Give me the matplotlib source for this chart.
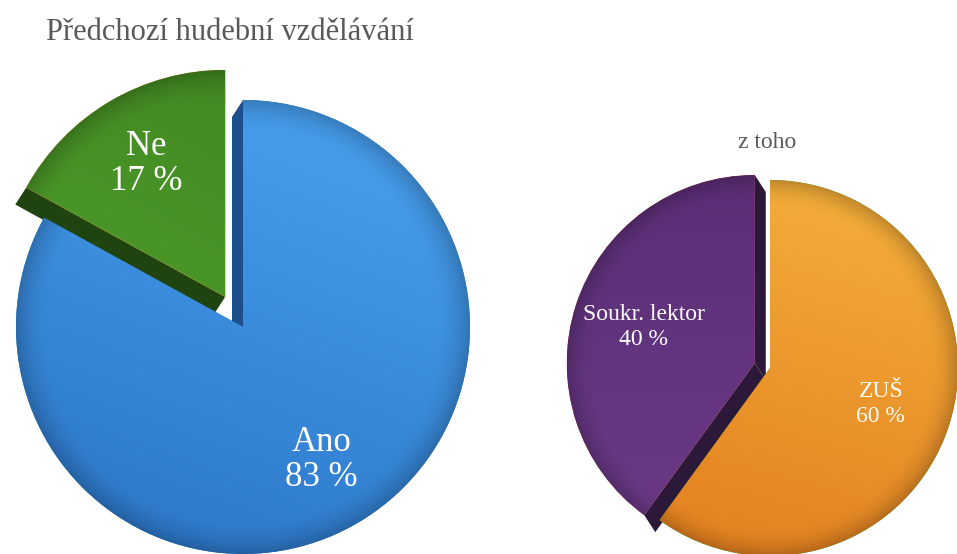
import numpy as np
import matplotlib
matplotlib.use("Agg")
import matplotlib.pyplot as plt
from matplotlib.patches import Polygon

# data
left_labels = ["Ano", "Ne"]
left_values = [83, 17]
right_labels = ["ZUŠ", "Soukr. lektor"]
right_values = [60, 40]

title_left = "Předchozí hudební vzdělávání"
title_right = "z toho"

W, H = 957, 554
plt.rcParams['font.family'] = ['Liberation Serif', 'DejaVu Serif']

fig = plt.figure(figsize=(W / 100, H / 100), dpi=100)
ax = fig.add_axes([0, 0, 1, 1])


def shaded(ax, wedge, c_top, c_bot, angle):
    # linear gradient clipped to the wedge
    x0, y0 = wedge.center
    r = wedge.r
    n = 200
    t = np.linspace(0, 1, n)
    X, Y = np.meshgrid(t, t)
    a = np.deg2rad(angle)
    g = (X - 0.5) * np.cos(a) + (Y - 0.5) * np.sin(a)
    g = (g - g.min()) / (g.max() - g.min())
    c1 = np.array(matplotlib.colors.to_rgb(c_bot))
    c2 = np.array(matplotlib.colors.to_rgb(c_top))
    img = c1[None, None, :] * (1 - g[..., None]) + c2[None, None, :] * g[..., None]
    # darker rim
    R = np.hypot(X - 0.5, Y - 0.5) * 2
    rim = np.clip((R - 0.85) / 0.15, 0, 1) ** 2 * 0.2
    img = img * (1 - rim[..., None])
    im = ax.imshow(img, extent=(x0 - r, x0 + r, y0 - r, y0 + r), origin="lower",
                   zorder=3, interpolation="bilinear")
    im.set_clip_path(wedge)


def side_faces(ax, wedges, d, color):
    # draw only the cut faces that turn towards the viewer
    for w in wedges:
        cx, cy = w.center
        for th, nrm in ((w.theta1, w.theta1 - 90), (w.theta2, w.theta2 + 90)):
            n = np.deg2rad(nrm)
            if d[0] * np.cos(n) + d[1] * np.sin(n) <= 0:
                continue
            px = cx + w.r * np.cos(np.deg2rad(th))
            py = cy + w.r * np.sin(np.deg2rad(th))
            pts = [(cx, cy), (px, py), (px + d[0], py + d[1]), (cx + d[0], cy + d[1])]
            ax.add_patch(Polygon(pts, closed=True, facecolor=color[w.get_label()],
                                 edgecolor="none", zorder=1))


# left pie (explode is in data units = pixels here)
lw, _ = ax.pie(left_values, center=(243, 227), radius=227, startangle=90,
               counterclock=False, explode=[0, 35], labels=None,
               wedgeprops=dict(linewidth=0))
for w, lab in zip(lw, left_labels):
    w.set_label(lab)
    w.set_zorder(2)
side_faces(ax, lw, (-11, -17), {"Ano": "#1d4f8c", "Ne": "#1f4410"})
shaded(ax, lw[0], "#4ba3f2", "#2a74c6", 70)
shaded(ax, lw[1], "#3d8220", "#56a82e", 60)

# right pie
rw, _ = ax.pie(right_values, center=(770, 186), radius=188, startangle=90,
               counterclock=False, explode=[0, 16], labels=None,
               wedgeprops=dict(linewidth=0))
for w, lab in zip(rw, right_labels):
    w.set_label(lab)
    w.set_zorder(2)
side_faces(ax, rw, (11, -17), {"ZUŠ": "#a8601a", "Soukr. lektor": "#2c1838"})
shaded(ax, rw[0], "#f5b23c", "#e27c1e", 75)
shaded(ax, rw[1], "#5b2e76", "#6c3a88", 90)


def put_labels(ax, wedges, labels, values, dist, size, ls):
    for w, lab, v in zip(wedges, labels, values):
        th = np.deg2rad((w.theta1 + w.theta2) / 2)
        x = w.center[0] + dist * w.r * np.cos(th)
        y = w.center[1] + dist * w.r * np.sin(th)
        ax.text(x, y, f"{lab}\n{v} %", ha="center", va="center", color="white",
                fontsize=size, linespacing=ls, zorder=5)


put_labels(ax, lw, left_labels, left_values, 0.68, 25, 1.08)
put_labels(ax, rw, right_labels, right_values, 0.62, 17, 1.2)

ax.text(230, H - 32, title_left, ha="center", va="center", fontsize=22, color="#595959")
ax.text(767, H - 143, title_right, ha="center", va="center", fontsize=17, color="#595959")

ax.set_xlim(0, W)
ax.set_ylim(0, H)
ax.set_aspect("equal")
ax.axis("off")

fig.savefig("out.png", dpi=100)
